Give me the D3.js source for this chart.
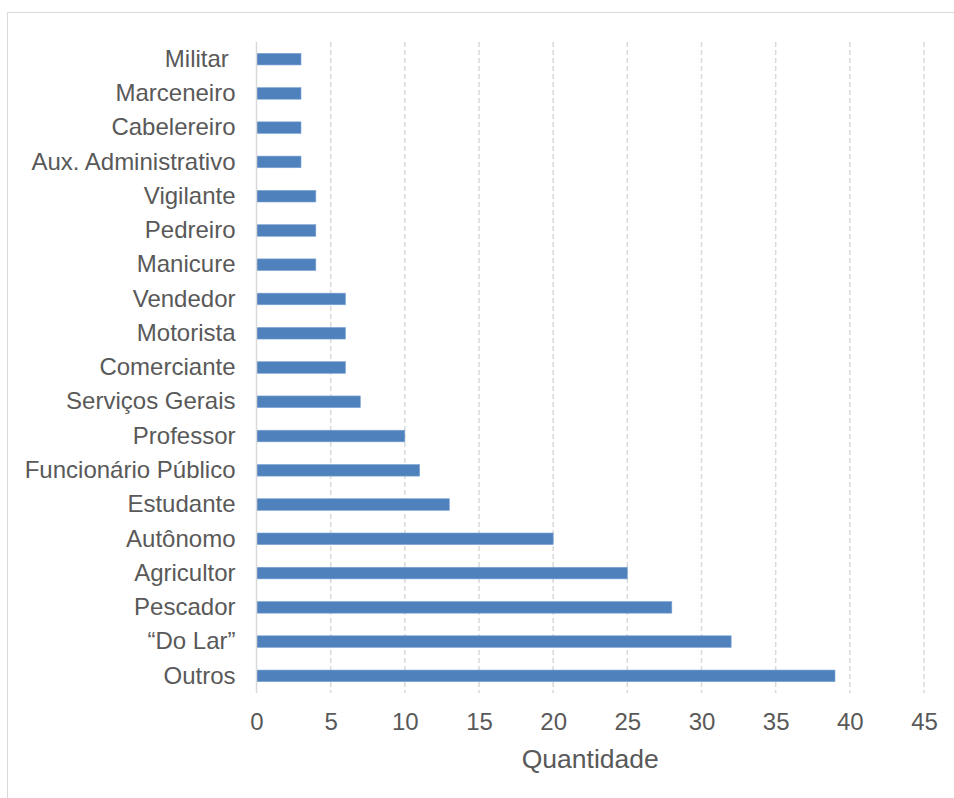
<!DOCTYPE html>
<html>
<head>
<meta charset="utf-8">
<script src="https://cdn.jsdelivr.net/npm/d3@7"></script>
<style>
  html, body { margin: 0; padding: 0; background: #fff; }
  svg { display: block; font-family: "Liberation Sans", Arial, sans-serif; }
</style>
</head>
<body>
<svg id="chart" width="954" height="798"></svg>
<script>
// Occupations (top to bottom) and respondent counts
const categories = [
  "Militar ", "Marceneiro", "Cabelereiro", "Aux. Administrativo", "Vigilante",
  "Pedreiro", "Manicure", "Vendedor", "Motorista", "Comerciante",
  "Serviços Gerais", "Professor", "Funcionário Público", "Estudante",
  "Autônomo", "Agricultor", "Pescador", "\u201CDo Lar\u201D", "Outros"
];
const values = [3, 3, 3, 3, 4, 4, 4, 6, 6, 6, 7, 10, 11, 13, 20, 25, 28, 32, 39];
const xTicks = [0, 5, 10, 15, 20, 25, 30, 35, 40, 45];
const xTitle = "Quantidade";

const svg = d3.select("#chart");

// chart area frame
svg.append("rect")
  .attr("x", 7.5).attr("y", 12.5)
  .attr("width", 960).attr("height", 800)
  .attr("fill", "#fff").attr("stroke", "#d9d9d9").attr("stroke-width", 1);

const plotTop = 42, plotBottom = 693;
const x = d3.scaleLinear().domain([0, 45]).range([256.5, 924]);
const y = d3.scaleBand().domain(categories).range([plotTop, plotBottom]).paddingInner(0.66).paddingOuter(0.33);

// vertical dashed gridlines
svg.append("g")
  .selectAll("line")
  .data(xTicks.filter(d => d > 0))
  .join("line")
  .attr("x1", d => x(d)).attr("x2", d => x(d))
  .attr("y1", plotTop).attr("y2", plotBottom)
  .attr("stroke", "#d9d9d9").attr("stroke-width", 1.5)
  .attr("stroke-dasharray", "5,3");

// bars
svg.append("g")
  .selectAll("rect")
  .data(values)
  .join("rect")
  .attr("x", x(0))
  .attr("y", (d, i) => y(categories[i]))
  .attr("width", d => x(d) - x(0))
  .attr("height", y.bandwidth())
  .attr("fill", "#4f81bd")
  .attr("stroke", "#7fa6d6").attr("stroke-width", 0.6);

// category axis line
svg.append("line")
  .attr("x1", x(0)).attr("x2", x(0))
  .attr("y1", plotTop).attr("y2", plotBottom)
  .attr("stroke", "#d9d9d9").attr("stroke-width", 1.5);

// category labels
const yAxis = d3.axisLeft(y).tickSize(0).tickPadding(21);
const yg = svg.append("g").attr("transform", `translate(${x(0)},0)`).call(yAxis);
yg.select(".domain").remove();
yg.selectAll("text")
  .attr("font-size", 24).attr("fill", "#595959")
  .attr("font-family", "Liberation Sans, Arial, sans-serif")
  .style("white-space", "pre");

// value axis labels
const xAxis = d3.axisBottom(x).tickValues(xTicks).tickSize(0).tickPadding(20);
const xg = svg.append("g").attr("transform", `translate(0,${plotBottom})`).call(xAxis);
xg.select(".domain").remove();
xg.selectAll("text")
  .attr("font-size", 24).attr("fill", "#595959")
  .attr("font-family", "Liberation Sans, Arial, sans-serif");

// axis title
svg.append("text")
  .attr("x", x(22.5)).attr("y", 768)
  .attr("text-anchor", "middle")
  .attr("font-size", 26.5).attr("fill", "#595959")
  .text(xTitle);
</script>
</body>
</html>
